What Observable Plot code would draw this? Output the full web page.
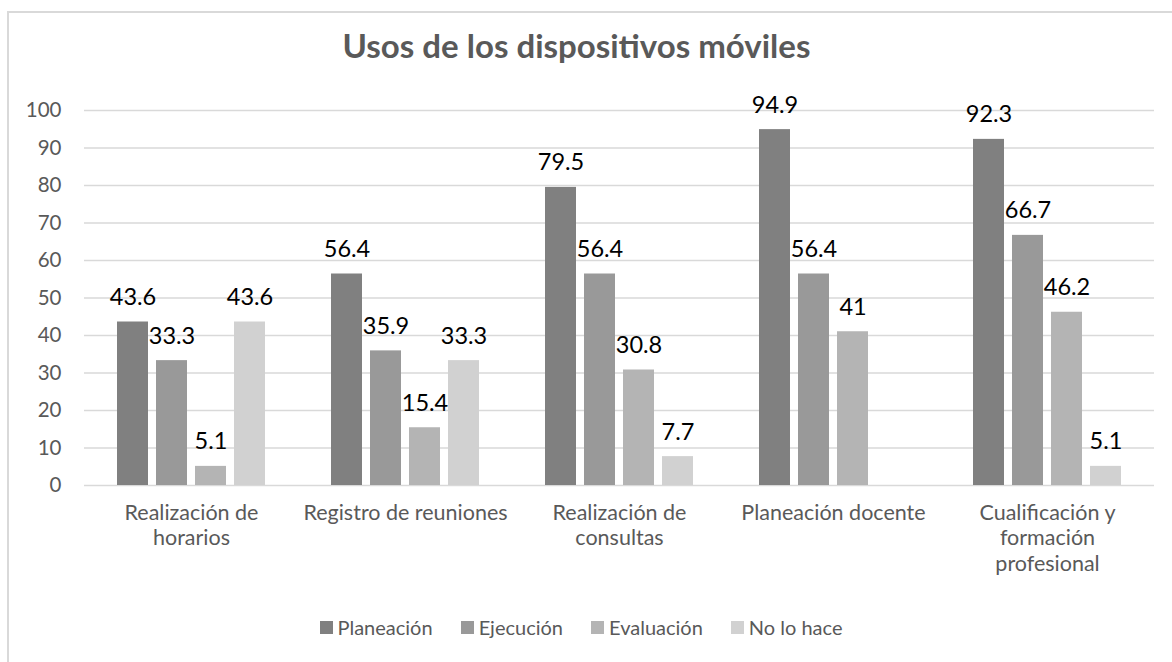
<!DOCTYPE html>
<html>
<head>
<meta charset="utf-8">
<script src="https://cdn.jsdelivr.net/npm/d3@7"></script>
<script src="https://cdn.jsdelivr.net/npm/@observablehq/plot@0.6"></script>
<style>
  html, body { margin: 0; padding: 0; background: #fff; }
  body { width: 1172px; height: 662px; overflow: hidden; position: relative; font-family: Lato, "Open Sans", sans-serif; }
  #frame { position: absolute; left: 7px; top: 11px; width: 1200px; height: 700px; border: 2px solid #d9d9d9; box-sizing: border-box; }
  #wrap { position: absolute; left: 0; top: 0; width: 1172px; }
  #title { height: 80px; box-sizing: border-box; padding-top: 25px; text-align: center; padding-right: 19px;
           font-size: 33px; font-weight: bold; color: #595959; line-height: 40px; }
  #legend { display: flex; justify-content: center; align-items: center; padding-top: 15px; padding-right: 10px;
            font-size: 20px; color: #595959; line-height: 24px; }
  .item { display: flex; align-items: center; margin: 0 14px; }
  .sw { width: 13px; height: 13px; margin-right: 5px; }
</style>
</head>
<body>
<div id="frame"></div>
<div id="wrap">
  <div id="title">Usos de los dispositivos móviles</div>
  <div id="chart"></div>
  <div id="legend"></div>
</div>
<script>
const categories = ["Realización de horarios", "Registro de reuniones", "Realización de consultas", "Planeación docente", "Cualificación y formación profesional"];
const categoryLabels = ["Realización de\nhorarios", "Registro de reuniones", "Realización de\nconsultas", "Planeación docente", "Cualificación y\nformación\nprofesional"];
const series = ["Planeación", "Ejecución", "Evaluación", "No lo hace"];
const planeacion = [43.6, 56.4, 79.5, 94.9, 92.3];
const ejecucion = [33.3, 35.9, 56.4, 56.4, 66.7];
const evaluacion = [5.1, 15.4, 30.8, 41, 46.2];
const noLoHace = [43.6, 33.3, 7.7, null, 5.1];
const colors = ["#808080", "#999999", "#b4b4b4", "#d1d1d1"];
const yTicks = [0, 10, 20, 30, 40, 50, 60, 70, 80, 90, 100];

const seriesValues = [planeacion, ejecucion, evaluacion, noLoHace];
const rows = categories.flatMap((c, i) => series.map((s, j) => ({category: c, series: s, value: seriesValues[j][i]})))
  .filter(d => d.value != null);
const labelOf = new Map(categories.map((c, i) => [c, categoryLabels[i]]));

const chart = Plot.plot({
  width: 1172,
  height: 520,
  marginTop: 30,
  marginBottom: 115,
  marginLeft: 83,
  marginRight: 17,
  style: {fontFamily: "Lato, 'Open Sans', sans-serif", fontSize: "20.5px", color: "#595959", background: "transparent"},
  fx: {domain: categories, padding: 0, axis: null, label: null},
  x: {domain: series, paddingInner: 0.21, paddingOuter: 0.83, axis: null, label: null},
  y: {domain: [0, 100], ticks: yTicks, tickSize: 0, tickPadding: 23, label: null},
  color: {domain: series, range: colors},
  marks: [
    Plot.ruleY(yTicks, {stroke: "#d9d9d9", strokeWidth: 1.4}),
    Plot.barY(rows, {fx: "category", x: "series", y: "value", fill: "series"}),
    Plot.text(rows, {fx: "category", x: "series", y: "value", text: d => String(d.value), lineAnchor: "bottom", dy: -17, fontSize: 23.5, fill: "#000"}),
    Plot.text(categories, {fx: d => d, text: d => labelOf.get(d), frameAnchor: "bottom", lineAnchor: "top", dy: 16, lineHeight: 1.19, fontSize: 21.5, fill: "#595959"})
  ]
});
document.getElementById("chart").appendChild(chart);

const legend = document.getElementById("legend");
series.forEach((s, i) => {
  const item = document.createElement("div");
  item.className = "item";
  const sw = document.createElement("div");
  sw.className = "sw";
  sw.style.background = colors[i];
  const t = document.createElement("span");
  t.textContent = s;
  item.appendChild(sw);
  item.appendChild(t);
  legend.appendChild(item);
});
</script>
</body>
</html>
